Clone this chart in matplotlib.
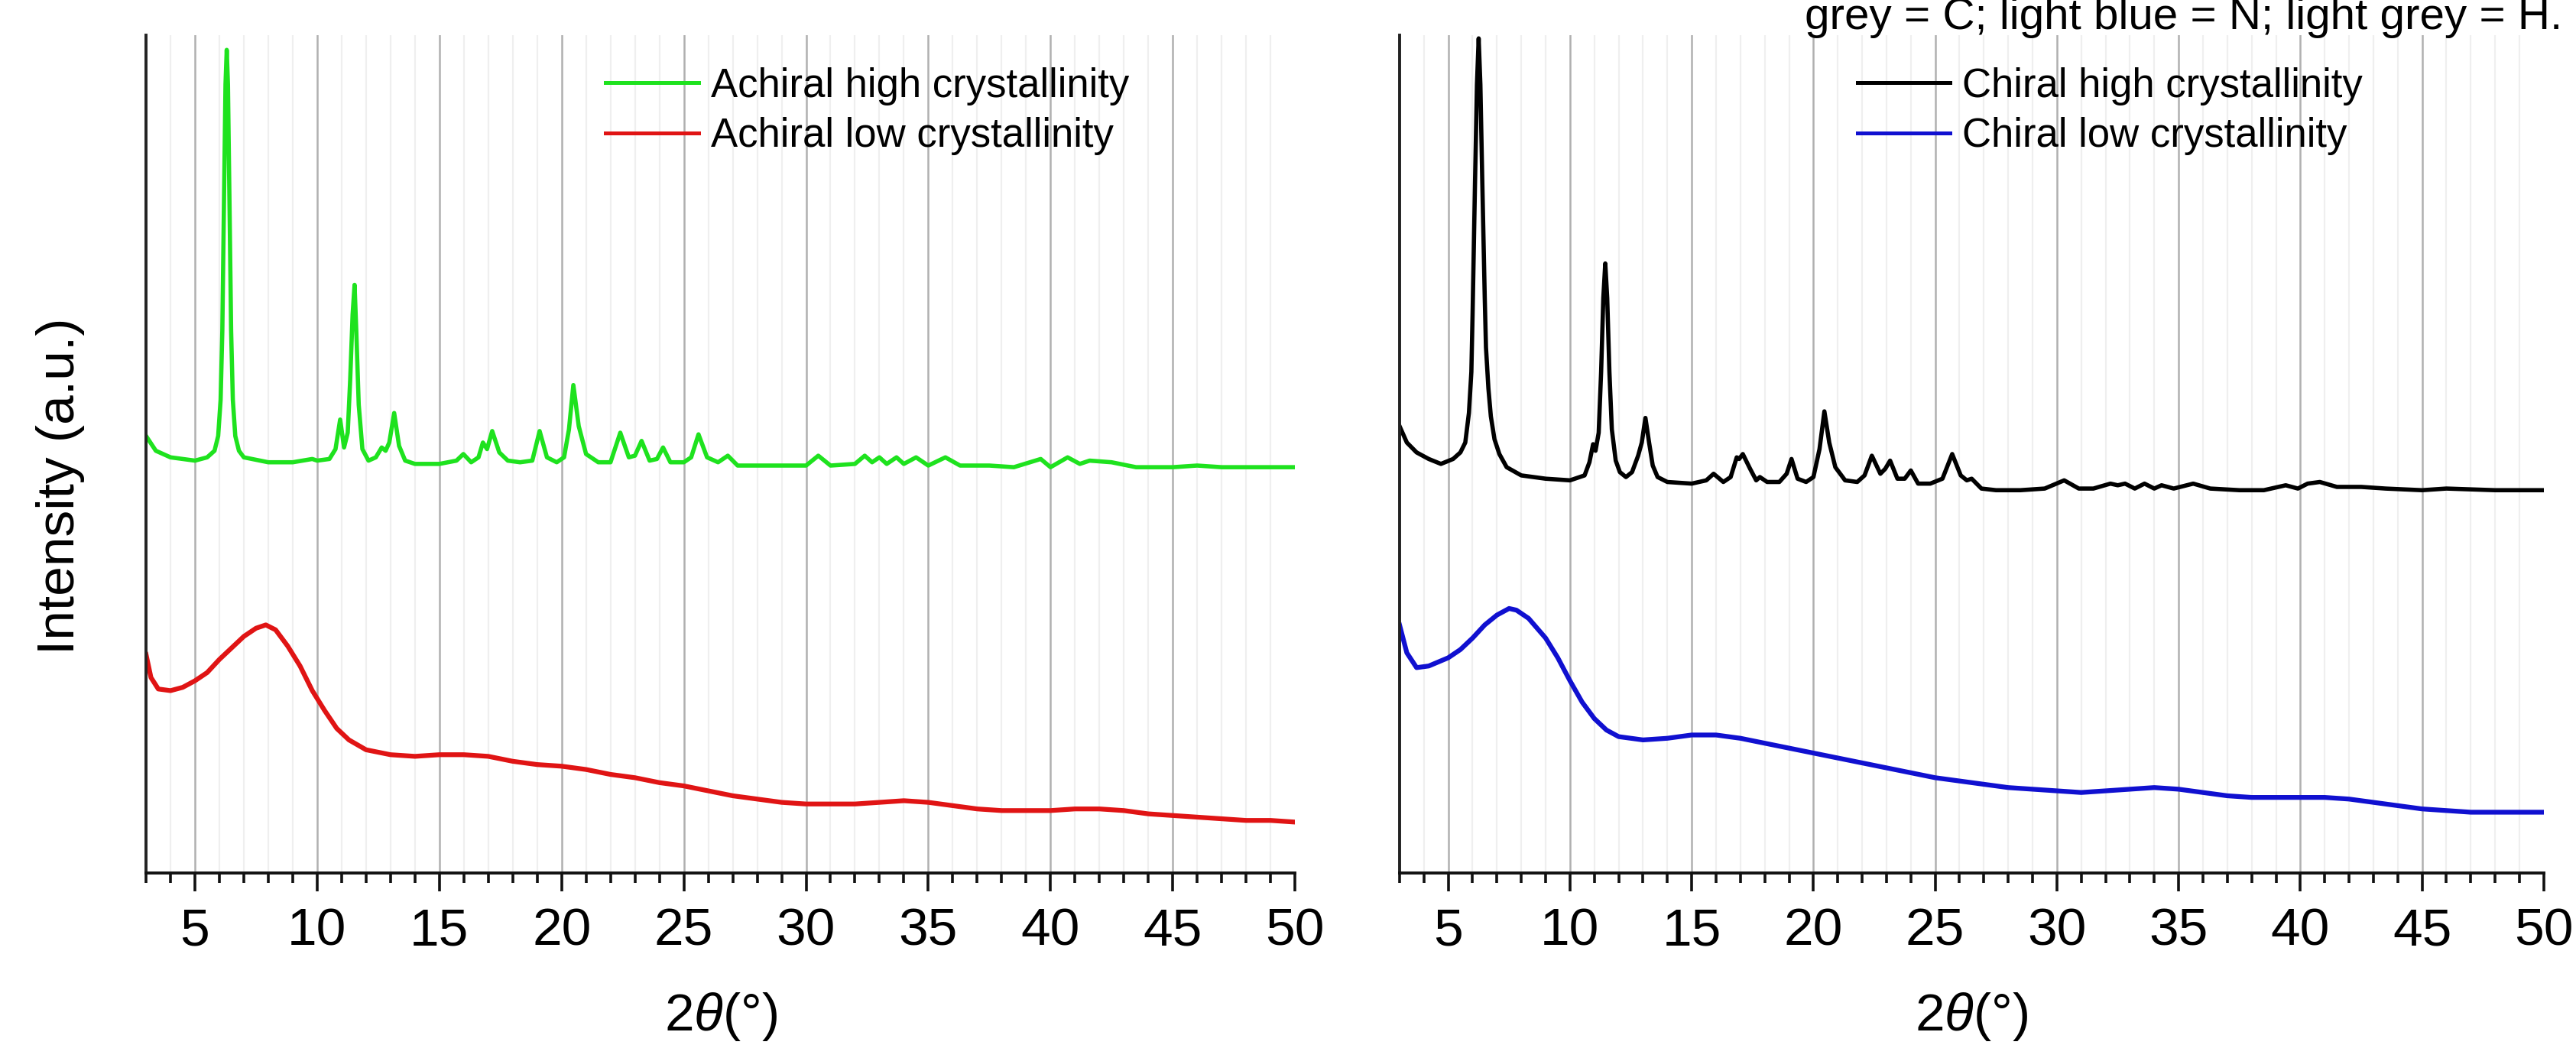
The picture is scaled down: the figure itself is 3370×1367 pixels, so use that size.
import matplotlib
matplotlib.use("Agg")
import matplotlib.pyplot as plt
from matplotlib.ticker import MultipleLocator

plt.rcParams["font.family"] = ["Liberation Sans", "DejaVu Sans"]
plt.rcParams["mathtext.fontset"] = "custom"
plt.rcParams["mathtext.it"] = "Liberation Sans:italic"
plt.rcParams["mathtext.rm"] = "Liberation Sans"

# ---------------------------------------------------------------------------
# Data (intensity in arbitrary units)
# ---------------------------------------------------------------------------
ach_hi_x = [3.0, 3.4, 4.0, 5.0, 5.5, 5.8, 5.95, 6.05, 6.12, 6.18, 6.25, 6.3,
            6.35, 6.42, 6.48, 6.55, 6.65, 6.8, 7.0, 8.0, 9.0, 9.8, 10.0, 10.5,
            10.75, 10.94, 11.1, 11.25, 11.35, 11.45, 11.53, 11.6, 11.7, 11.85,
            12.1, 12.4, 12.64, 12.8, 12.95, 13.15, 13.35, 13.6, 14.0, 15.0,
            15.7, 15.98, 16.3, 16.6, 16.78, 16.95, 17.16, 17.45, 17.8, 18.3,
            18.8, 19.1, 19.4, 19.8, 20.1, 20.3, 20.48, 20.7, 21.0, 21.5, 22.0,
            22.4, 22.75, 23.0, 23.27, 23.6, 23.9, 24.15, 24.45, 25.0, 25.3,
            25.6, 25.95, 26.4, 26.8, 27.2, 28.0, 29.0, 30.0, 30.5, 31.0, 32.0,
            32.4, 32.7, 33.0, 33.3, 33.7, 34.0, 34.5, 35.0, 35.7, 36.3, 37.5,
            38.5, 39.6, 40.0, 40.7, 41.2, 41.6, 42.5, 43.5, 45.0, 46.0, 47.0,
            48.0, 50.0]
ach_hi_y = [266, 257, 253, 251, 253, 257, 266, 288, 330, 400, 480, 501,
            480, 400, 330, 288, 266, 257, 253, 250, 250, 252, 251, 252,
            258, 276, 259, 268, 300, 340, 358, 330, 285, 258,
            251, 253, 259, 257, 262, 280, 260, 251, 249, 249,
            251, 255, 250, 253, 262, 258, 269, 256, 251, 250,
            251, 269, 253, 250, 253, 270, 297, 272, 255, 250, 250,
            268, 253, 254, 263, 251, 252, 259, 250, 250, 253,
            267, 253, 250, 254, 248, 248, 248, 248, 254, 248, 249,
            254, 250, 253, 249, 253, 249, 253, 248, 253, 248, 248,
            247, 252, 247, 253, 249, 251, 250, 247, 247, 248, 247,
            247, 247]

ach_lo_x = [3.0, 3.2, 3.5, 4.0, 4.5, 5.0, 5.5, 6.0, 6.5, 7.0, 7.5, 7.9,
            8.3, 8.8, 9.3, 9.8, 10.3, 10.8, 11.3, 12.0, 13.0, 14.0, 15.0,
            16.0, 17.0, 18.0, 19.0, 20.0, 21.0, 22.0, 23.0, 24.0, 25.0, 26.0,
            27.0, 28.0, 29.0, 30.0, 31.0, 32.0, 33.0, 34.0, 35.0, 36.0, 37.0,
            38.0, 39.0, 40.0, 41.0, 42.0, 43.0, 44.0, 45.0, 46.0, 47.0, 48.0,
            49.0, 50.0]
ach_lo_y = [133, 119, 112, 111, 113, 117, 122, 130, 137, 144, 149, 151,
            148, 138, 126, 111, 99, 88, 81, 75, 72, 71, 72,
            72, 71, 68, 66, 65, 63, 60, 58, 55, 53, 50,
            47, 45, 43, 42, 42, 42, 43, 44, 43, 41, 39,
            38, 38, 38, 39, 39, 38, 36, 35, 34, 33, 32,
            32, 31]

chi_hi_x = [3.0, 3.3, 3.7, 4.2, 4.7, 5.2, 5.5, 5.7, 5.85, 5.95, 6.0, 6.1,
            6.18, 6.25, 6.32, 6.4, 6.5, 6.55, 6.65, 6.75, 6.9, 7.1, 7.4, 8.0,
            9.0, 10.0, 10.6, 10.8, 10.95, 11.05, 11.18, 11.28, 11.37, 11.45,
            11.53, 11.62, 11.72, 11.88, 12.05, 12.3, 12.55, 12.8, 12.95, 13.1,
            13.25, 13.4, 13.6, 14.0, 15.0, 15.6, 15.9, 16.3, 16.6, 16.85,
            16.95, 17.1, 17.4, 17.65, 17.8, 18.1, 18.6, 18.9, 19.1, 19.35,
            19.7, 20.0, 20.25, 20.45, 20.65, 20.9, 21.3, 21.8, 22.1, 22.4,
            22.75, 22.95, 23.15, 23.45, 23.75, 24.0, 24.3, 24.8, 25.3, 25.7,
            26.05, 26.3, 26.5, 26.9, 27.5, 28.5, 29.5, 30.3, 30.9, 31.5, 32.2,
            32.5, 32.8, 33.2, 33.6, 34.0, 34.3, 34.8, 35.6, 36.3, 37.5, 38.5,
            39.4, 39.9, 40.3, 40.8, 41.5, 42.5, 43.5, 45.0, 46.0, 48.0, 50.0]
chi_hi_y = [272, 262, 256, 252, 249, 252, 256, 262, 280, 305, 340, 420,
            480, 508, 480, 420, 350, 320, 295, 278, 264, 255, 247, 242,
            240, 239, 242, 250, 261, 257, 268, 305, 350, 371,
            350, 305, 270, 251, 244, 241, 244, 254, 262, 277,
            262, 248, 241, 238, 237, 239, 243, 238, 241, 253,
            252, 255, 246, 239, 241, 238, 238, 243, 252, 240,
            238, 241, 258, 281, 262, 247, 239, 238, 242, 254,
            243, 246, 251, 240, 240, 245, 237, 237, 240, 255,
            242, 239, 240, 234, 233, 233, 234, 239, 234, 234, 237,
            236, 237, 234, 237, 234, 236, 234, 237, 234, 233, 233,
            236, 234, 237, 238, 235, 235, 234, 233, 234, 233, 233]

chi_lo_x = [3.0, 3.3, 3.7, 4.2, 5.0, 5.5, 6.0, 6.5, 7.0, 7.5, 7.8, 8.3,
            9.0, 9.5, 10.0, 10.5, 11.0, 11.5, 12.0, 13.0, 14.0, 15.0, 16.0,
            17.0, 18.0, 19.0, 20.0, 21.0, 22.0, 23.0, 24.0, 25.0, 26.0, 27.0,
            28.0, 29.0, 30.0, 31.0, 32.0, 33.0, 34.0, 35.0, 36.0, 37.0, 38.0,
            39.0, 40.0, 41.0, 42.0, 43.0, 44.0, 45.0, 46.0, 47.0, 48.0, 49.0,
            50.0]
chi_lo_y = [151, 134, 125, 126, 131, 136, 143, 151, 157, 161, 160, 155,
            143, 131, 117, 104, 94, 87, 83, 81, 82, 84, 84,
            82, 79, 76, 73, 70, 67, 64, 61, 58, 56, 54,
            52, 51, 50, 49, 50, 51, 52, 51, 49, 47, 46,
            46, 46, 46, 45, 43, 41, 39, 38, 37, 37, 37,
            37]

x_ticks = [5, 10, 15, 20, 25, 30, 35, 40, 45, 50]
left_labels = ["Achiral high crystallinity", "Achiral low crystallinity"]
right_labels = ["Chiral high crystallinity", "Chiral low crystallinity"]

# ---------------------------------------------------------------------------
# Figure
# ---------------------------------------------------------------------------
fig = plt.figure(figsize=(33.7, 13.67), dpi=100)
ax1 = fig.add_axes([0.0567, 0.1646, 0.4460, 0.8018])
ax2 = fig.add_axes([0.5433, 0.1646, 0.4442, 0.8018])


def style_axis(ax):
    ax.set_xlim(3, 50)
    ax.set_ylim(0, 510)
    ax.set_xticks(x_ticks)
    ax.xaxis.set_minor_locator(MultipleLocator(1))
    ax.set_yticks([])
    for side in ("top", "right"):
        ax.spines[side].set_visible(False)
    ax.spines["left"].set_linewidth(2.8)
    ax.spines["left"].set_color("#222222")
    ax.spines["bottom"].set_linewidth(2.8)
    ax.spines["bottom"].set_color("#111111")
    ax.tick_params(axis="x", which="major", direction="out", length=17,
                   width=2.6, labelsize=50, pad=15, color="#111111")
    ax.tick_params(axis="x", which="minor", direction="out", length=9,
                   width=2.6, color="#111111")
    ax.grid(True, which="major", axis="x", color="#b0b0b0", linewidth=1.8)
    ax.grid(True, which="minor", axis="x", color="#efefef", linewidth=1.6)
    ax.set_axisbelow(True)
    ax.set_xlabel(r"2$\it{\theta}$(°)", fontsize=50, va="baseline")
    # baseline of the axis title sits just above the bottom edge
    ax.xaxis.set_label_coords(0.5, -0.188)
    # hide the gridline sitting on the right edge (x = 50)
    ax.xaxis.get_gridlines()[-1].set_visible(False)


style_axis(ax1)
style_axis(ax2)

ax1.plot(ach_hi_x, ach_hi_y, color="#1ee21e", lw=4.0, label=left_labels[0])
ax1.plot(ach_lo_x, ach_lo_y, color="#e01414", lw=4.5, label=left_labels[1])
ax2.plot(chi_hi_x, chi_hi_y, color="#000000", lw=4.0, label=right_labels[0])
ax2.plot(chi_lo_x, chi_lo_y, color="#1010d0", lw=4.5, label=right_labels[1])

for ax in (ax1, ax2):
    leg = ax.legend(loc="upper left", bbox_to_anchor=(0.40, 0.962),
                    frameon=False, fontsize=38, handlelength=2.3,
                    handletextpad=0.3, labelspacing=0.3, borderpad=0,
                    borderaxespad=0)
    for line in leg.get_lines():
        line.set_linewidth(3.6)

fig.text(0.0235, 0.535, "Intensity (a.u.)", rotation=90, fontsize=50,
         ha="center", va="center")
fig.text(0.9947, 1 - 38 / 1367, "grey = C; light blue = N; light grey = H.",
         fontsize=42, ha="right", va="baseline")

fig.savefig("out.png", dpi=100)
